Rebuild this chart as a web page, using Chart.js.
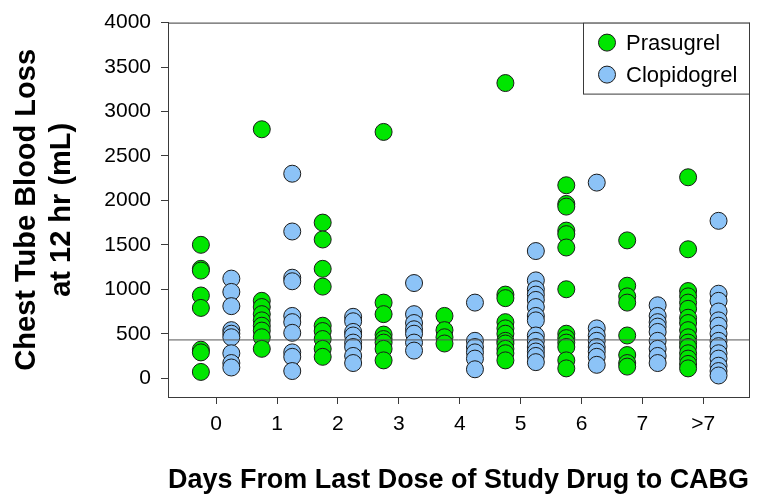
<!DOCTYPE html>
<html>
<head>
<meta charset="utf-8">
<title>Chest tube blood loss by days from last dose</title>
<script src="https://cdn.jsdelivr.net/npm/chart.js@4.4.0/dist/chart.umd.min.js"></script>
<style>
  html, body { margin: 0; padding: 0; background: #fff; }
  #wrap { width: 768px; height: 500px; }
</style>
</head>
<body>
<div id="wrap"><canvas id="chart" width="768" height="500"></canvas></div>
<script>
// Categories on the x axis (days from last dose)
const dayLabels = ['0', '1', '2', '3', '4', '5', '6', '7', '>7'];

// Chest tube blood loss at 12 hr (mL), one list per day category
const prasugrel = [
    [1500, 1230, 1210, 930, 790, 320, 290, 70],
    [2800, 870, 800, 720, 650, 590, 535, 460, 330],
    [1750, 1560, 1230, 1030, 590, 530, 440, 330, 240],
    [2770, 850, 720, 490, 440, 400, 330, 200],
    [700, 540, 460, 390],
    [3320, 940, 900, 630, 560, 500, 420, 390, 330, 280, 200],
    [2170, 1960, 1930, 1660, 1620, 1470, 1000, 500, 450, 400, 350, 200, 110],
    [1550, 1040, 920, 850, 480, 260, 170, 130],
    [2260, 1450, 980, 920, 850, 780, 680, 620, 540, 460, 400, 350, 280, 220, 160, 110]
];
const clopidogrel = [
    [1120, 970, 810, 540, 500, 460, 280, 170, 120],
    [2300, 1650, 1130, 1090, 700, 630, 510, 290, 240, 80],
    [690, 640, 520, 480, 400, 350, 250, 170],
    [1070, 720, 620, 550, 500, 400, 310],
    [850, 420, 350, 290, 220, 100],
    [1430, 1100, 1000, 940, 880, 800, 700, 650, 480, 420, 350, 300, 250, 180],
    [2200, 560, 480, 420, 350, 300, 240, 150],
    [820, 700, 630, 580, 520, 420, 330, 250, 170],
    [1770, 950, 870, 750, 650, 590, 500, 420, 360, 280, 220, 140, 80, 30]
];

// Reference line (mL) and y tick values
const refLine = 430;
const yTicks = [0, 500, 1000, 1500, 2000, 2500, 3000, 3500, 4000];

const GREEN = '#00e600';
const BLUE = '#8cc3f7';
const EDGE = '#1a1a1a';
const AXIS = '#3a3a3a';
const X_MIN = -0.79, X_MAX = 8.75;
const Y_MIN = -212, Y_MAX = 4000;

Chart.defaults.font.family = '"Liberation Sans", Arial, sans-serif';

// turn per-category lists into {x, y} points, shifted left/right of the tick
const toPoints = (groups, shift) =>
    groups.flatMap((vals, i) => vals.map(v => ({ x: i + shift, y: v })));

// frame around the plot + the boxed legend in the top right corner
const frameAndLegend = {
    id: 'frameAndLegend',
    afterDraw(chart) {
        const { ctx, chartArea: a } = chart;
        ctx.save();
        ctx.strokeStyle = AXIS;
        ctx.lineWidth = 1;
        ctx.strokeRect(a.left + 0.5, a.top + 0.5, a.right - a.left, a.bottom - a.top);

        // legend box
        const bx = 583, by = a.top, bw = a.right - 583, bh = 71;
        ctx.fillStyle = '#fff';
        ctx.fillRect(bx, by, bw, bh);
        ctx.strokeRect(bx + 0.5, by + 0.5, bw, bh);

        const items = [['Prasugrel', GREEN], ['Clopidogrel', BLUE]];
        ctx.font = '22px "Liberation Sans", Arial, sans-serif';
        ctx.textBaseline = 'middle';
        ctx.textAlign = 'left';
        items.forEach(([label, color], k) => {
            const cy = by + 20 + k * 32;
            ctx.beginPath();
            ctx.arc(607, cy, 8.5, 0, Math.PI * 2);
            ctx.fillStyle = color;
            ctx.fill();
            ctx.strokeStyle = EDGE;
            ctx.stroke();
            ctx.fillStyle = '#000';
            ctx.fillText(label, 626, cy + 1);
        });
        ctx.restore();
    }
};

const ctx = document.getElementById('chart');
new Chart(ctx, {
    type: 'scatter',
    data: {
        datasets: [
            {
                label: 'ref',
                type: 'line',
                data: [{ x: X_MIN, y: refLine }, { x: X_MAX, y: refLine }],
                borderColor: '#555',
                borderWidth: 1,
                pointRadius: 0,
                fill: false,
                order: 0
            },
            {
                label: 'Prasugrel',
                data: toPoints(prasugrel, -0.25),
                backgroundColor: GREEN,
                borderColor: EDGE,
                borderWidth: 1,
                pointRadius: 8.5,
                order: 1
            },
            {
                label: 'Clopidogrel',
                data: toPoints(clopidogrel, 0.25),
                backgroundColor: BLUE,
                borderColor: EDGE,
                borderWidth: 1,
                pointRadius: 8.5,
                order: 2
            }
        ]
    },
    options: {
        responsive: false,
        animation: false,
        layout: { padding: { left: 0, top: 19, right: 19, bottom: 0 } },
        plugins: {
            legend: { display: false },
            tooltip: { enabled: false }
        },
        scales: {
            x: {
                type: 'linear',
                min: X_MIN,
                max: X_MAX,
                afterBuildTicks: s => { s.ticks = dayLabels.map((_, i) => ({ value: i })); },
                afterFit: s => { s.height = 103; },
                ticks: {
                    callback: v => dayLabels[v],
                    color: '#000',
                    padding: 8,
                    maxRotation: 0,
                    font: { size: 21 }
                },
                grid: { drawOnChartArea: false, drawTicks: true, tickLength: 7, color: AXIS },
                border: { display: true, color: AXIS },
                title: {
                    display: true,
                    text: 'Days From Last Dose of Study Drug to CABG',
                    color: '#000',
                    font: { size: 28, weight: 'bold' },
                    padding: { top: 0, bottom: 3 }
                }
            },
            y: {
                min: Y_MIN,
                max: Y_MAX,
                afterBuildTicks: s => { s.ticks = yTicks.map(v => ({ value: v })); },
                afterFit: s => { s.width = 168; },
                ticks: {
                    callback: v => String(v),
                    color: '#000',
                    padding: 10,
                    font: { size: 21 }
                },
                grid: { drawOnChartArea: false, drawTicks: true, tickLength: 7, color: AXIS },
                border: { display: true, color: AXIS },
                title: {
                    display: true,
                    text: ['Chest Tube Blood Loss', 'at 12 hr (mL)'],
                    color: '#000',
                    font: { size: 29, weight: 'bold', lineHeight: 1.2 },
                    padding: { top: 10, bottom: 0 }
                }
            }
        }
    },
    plugins: [frameAndLegend]
});
</script>
</body>
</html>
